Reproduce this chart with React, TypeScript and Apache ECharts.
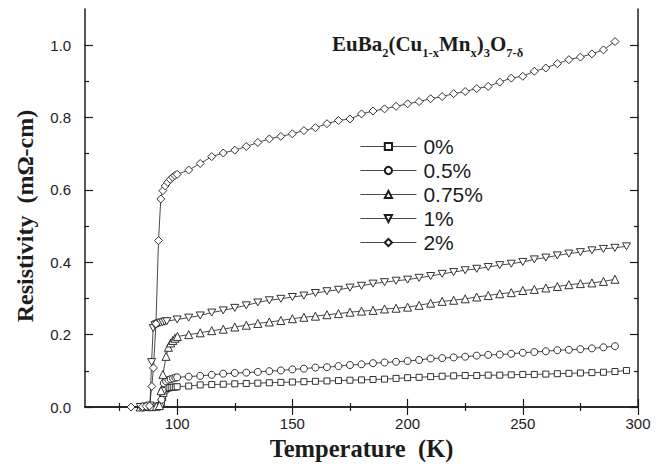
import React, { useEffect, useRef } from "react";
import * as echarts from "echarts";

// ---- data: [temperature (K), resistivity (mΩ-cm)] ----
const SERIES_0: number[][] = [
  [86, 0], [88, 0], [90, 0.001], [91.5, 0.002], [92.5, 0.003], [93.2, 0.012], [93.7, 0.025],
  [94.2, 0.037], [94.8, 0.047], [95.6, 0.051], [96.5, 0.053], [97.4, 0.054], [98.3, 0.055],
  [99.2, 0.055], [100, 0.056], [105, 0.058], [110, 0.061], [115, 0.062], [120, 0.063],
  [125, 0.064], [130, 0.065], [135, 0.066], [140, 0.067], [145, 0.068], [150, 0.069],
  [155, 0.07], [160, 0.071], [165, 0.072], [170, 0.073], [175, 0.074], [180, 0.075],
  [185, 0.076], [190, 0.077], [195, 0.079], [200, 0.081], [205, 0.082], [210, 0.084],
  [215, 0.085], [220, 0.086], [225, 0.087], [230, 0.087], [235, 0.088], [240, 0.088],
  [245, 0.089], [250, 0.09], [255, 0.09], [260, 0.091], [265, 0.092], [270, 0.093],
  [275, 0.094], [280, 0.095], [285, 0.096], [290, 0.098], [295, 0.101],
];

const SERIES_05: number[][] = [
  [86, 0], [88, 0], [90, 0.001], [91.5, 0.002], [92.5, 0.004], [93.2, 0.02], [93.7, 0.045],
  [94.2, 0.066], [95.2, 0.071], [96.2, 0.075], [97.2, 0.077], [98.2, 0.079], [99.2, 0.081],
  [100, 0.082], [105, 0.084], [110, 0.086], [115, 0.089], [120, 0.092], [125, 0.094],
  [130, 0.095], [135, 0.097], [140, 0.099], [145, 0.101], [150, 0.104], [155, 0.106],
  [160, 0.109], [165, 0.11], [170, 0.113], [175, 0.116], [180, 0.118], [185, 0.121],
  [190, 0.123], [195, 0.125], [200, 0.127], [205, 0.13], [210, 0.134], [215, 0.135],
  [220, 0.137], [225, 0.139], [230, 0.142], [235, 0.144], [240, 0.145], [245, 0.147],
  [250, 0.15], [255, 0.152], [260, 0.154], [265, 0.157], [270, 0.158], [275, 0.16],
  [280, 0.162], [285, 0.165], [290, 0.168],
];

const SERIES_075: number[][] = [
  [84, 0], [87, 0.001], [89, 0.001], [91, 0.002], [92.3, 0.004], [93, 0.045], [93.8, 0.09],
  [95.2, 0.14], [96.2, 0.165], [97.2, 0.177], [98.1, 0.184], [99.1, 0.19], [100.1, 0.195],
  [105, 0.2], [110, 0.205], [115, 0.211], [120, 0.215], [125, 0.221], [130, 0.226],
  [135, 0.231], [140, 0.235], [145, 0.239], [150, 0.244], [155, 0.248], [160, 0.251],
  [165, 0.255], [170, 0.258], [175, 0.262], [180, 0.265], [185, 0.267], [190, 0.271],
  [195, 0.273], [200, 0.276], [205, 0.281], [210, 0.287], [215, 0.292], [220, 0.295],
  [225, 0.299], [230, 0.304], [235, 0.308], [240, 0.313], [245, 0.316], [250, 0.322],
  [255, 0.325], [260, 0.329], [265, 0.333], [270, 0.338], [275, 0.341], [280, 0.343],
  [285, 0.347], [290, 0.353],
];

const SERIES_1: number[][] = [
  [84, 0], [86, 0.001], [87.5, 0.002], [88.2, 0.004], [88.9, 0.124], [89.6, 0.218],
  [90.4, 0.226], [91.2, 0.229], [92, 0.231], [92.8, 0.233], [93.7, 0.234], [94.6, 0.236],
  [95.5, 0.237], [100, 0.242], [105, 0.247], [110, 0.253], [115, 0.261], [120, 0.267],
  [125, 0.274], [130, 0.281], [135, 0.289], [140, 0.295], [145, 0.299], [150, 0.304],
  [155, 0.308], [160, 0.315], [165, 0.32], [170, 0.324], [175, 0.33], [180, 0.335],
  [185, 0.341], [190, 0.345], [195, 0.349], [200, 0.352], [205, 0.357], [210, 0.362],
  [215, 0.368], [220, 0.373], [225, 0.378], [230, 0.382], [235, 0.387], [240, 0.392],
  [245, 0.396], [250, 0.401], [255, 0.408], [260, 0.413], [265, 0.419], [270, 0.424],
  [275, 0.428], [280, 0.433], [285, 0.437], [290, 0.44], [295, 0.444],
];

const SERIES_2: number[][] = [
  [80, 0], [85, 0.001], [86.5, 0.002], [88, 0.003], [89, 0.057], [89.7, 0.108], [90.8, 0.23],
  [91.9, 0.46], [92.9, 0.575], [93.8, 0.598], [94.8, 0.611], [95.9, 0.621], [97, 0.629],
  [98, 0.635], [99, 0.64], [100, 0.643], [105, 0.655], [110, 0.673], [115, 0.692],
  [120, 0.702], [125, 0.71], [130, 0.72], [135, 0.731], [140, 0.741], [145, 0.748],
  [150, 0.755], [155, 0.764], [160, 0.772], [165, 0.783], [170, 0.792], [175, 0.796],
  [180, 0.81], [185, 0.818], [190, 0.824], [195, 0.831], [200, 0.838], [205, 0.844],
  [210, 0.852], [215, 0.858], [220, 0.866], [225, 0.872], [230, 0.88], [235, 0.886],
  [240, 0.898], [245, 0.909], [250, 0.914], [255, 0.928], [260, 0.937], [265, 0.949],
  [270, 0.96], [275, 0.967], [280, 0.976], [285, 0.987], [290, 1.01],
];

const LEGEND_NAMES = ["0%", "0.5%", "0.75%", "1%", "2%"];
const X_MAJOR = [100, 150, 200, 250, 300];
const X_MINOR = [75, 125, 175, 225, 275];
const Y_MAJOR = [0, 0.2, 0.4, 0.6, 0.8, 1.0];
const Y_MINOR = [0.1, 0.3, 0.5, 0.7, 0.9];
const X_RANGE = [60, 300];
const Y_RANGE = [0, 1.1];

const INK = "#1c1c1c";
const DOWN_TRIANGLE = "path://M0,0L10,0L5,9Z";

export default function App() {
  const ref = useRef<HTMLDivElement>(null);

  useEffect(() => {
    if (!ref.current) return;
    const chart = echarts.init(ref.current, null, { renderer: "svg" });

    const axisLine = { show: true, lineStyle: { color: INK, width: 1.5 } };
    const tickStyle = { color: INK, width: 1.2 };

    const xBase = (position: string, ticks: number[], len: number, labels: boolean, showLine: boolean) => ({
      type: "value",
      min: X_RANGE[0],
      max: X_RANGE[1],
      position,
      axisLine: showLine ? axisLine : { show: false },
      axisTick: { show: true, inside: true, length: len, customValues: ticks, lineStyle: tickStyle },
      axisLabel: labels
        ? {
            show: true,
            customValues: X_MAJOR,
            margin: 9,
            fontSize: 15,
            fontFamily: "Liberation Sans, Arial, sans-serif",
            color: INK,
          }
        : { show: false },
      splitLine: { show: false },
    });

    const yBase = (position: string, ticks: number[], len: number, labels: boolean, showLine: boolean) => ({
      type: "value",
      min: Y_RANGE[0],
      max: Y_RANGE[1],
      position,
      axisLine: showLine ? axisLine : { show: false },
      axisTick: { show: true, inside: true, length: len, customValues: ticks, lineStyle: tickStyle },
      axisLabel: labels
        ? {
            show: true,
            customValues: Y_MAJOR,
            margin: 14,
            fontSize: 15,
            fontFamily: "Liberation Sans, Arial, sans-serif",
            color: INK,
            formatter: (v: number) => v.toFixed(1),
          }
        : { show: false },
      splitLine: { show: false },
    });

    const mk = (name: string, data: number[][], symbol: string, size: number | number[]) => ({
      name,
      type: "line",
      data,
      symbol,
      symbolSize: size,
      showSymbol: true,
      showAllSymbol: true,
      lineStyle: { color: INK, width: 0.8 },
      itemStyle: { color: "#fff", borderColor: INK, borderWidth: 0.9 },
      emphasis: { disabled: true },
      xAxisIndex: 0,
      yAxisIndex: 0,
    });

    chart.setOption({
      animation: false,
      backgroundColor: "#fff",
      grid: { left: 85, right: 31, top: 9, bottom: 63, containLabel: false },
      xAxis: [
        {
          ...xBase("bottom", X_MAJOR, 8, true, true),
          name: "Temperature  (K)",
          nameLocation: "middle",
          nameGap: 25,
          nameTextStyle: {
            fontFamily: "Liberation Serif, Times New Roman, serif",
            fontWeight: "bold",
            fontSize: 24.5,
            color: INK,
          },
        },
        xBase("top", X_MAJOR, 8, false, true),
        xBase("bottom", X_MINOR, 4, false, false),
        xBase("top", X_MINOR, 4, false, false),
      ],
      yAxis: [
        {
          ...yBase("left", Y_MAJOR, 8, true, true),
          name: "Resistivity  (mΩ-cm)",
          nameLocation: "middle",
          nameGap: 48,
          nameTextStyle: {
            fontFamily: "Liberation Serif, Times New Roman, serif",
            fontWeight: "bold",
            fontSize: 24,
            color: INK,
            padding: [0, 16, 0, 0],
          },
        },
        yBase("right", Y_MAJOR, 8, false, true),
        yBase("left", Y_MINOR, 4, false, false),
        yBase("right", Y_MINOR, 4, false, false),
      ],
      legend: {
        orient: "vertical",
        left: 360,
        top: 136,
        padding: 0,
        itemWidth: 56,
        itemHeight: 9,
        itemGap: 3,
        data: LEGEND_NAMES,
        lineStyle: { width: 0.8, color: INK },
        textStyle: {
          fontSize: 21,
          lineHeight: 21,
          fontFamily: "Liberation Sans, Arial, sans-serif",
          color: INK,
          padding: [0, 0, 0, 2],
        },
      },
      graphic: [
        {
          type: "text",
          left: 332,
          top: 33,
          style: {
            text: "{n|EuBa}{s|2}{n|(Cu}{s|1-x}{n|Mn}{s|x}{n|)}{s|3}{n|O}{s|7-δ}",
            rich: {
              n: {
                fontFamily: "Liberation Serif, Times New Roman, serif",
                fontWeight: "bold",
                fontSize: 21,
                lineHeight: 24,
                verticalAlign: "bottom",
                padding: [0, 0, 5, 0],
                fill: INK,
              },
              s: {
                fontFamily: "Liberation Serif, Times New Roman, serif",
                fontWeight: "bold",
                fontSize: 12.5,
                lineHeight: 14,
                verticalAlign: "bottom",
                fill: INK,
              },
            },
          },
        },
      ],
      series: [
        mk(LEGEND_NAMES[0], SERIES_0, "rect", 6),
        mk(LEGEND_NAMES[1], SERIES_05, "circle", 7),
        mk(LEGEND_NAMES[2], SERIES_075, "triangle", 8),
        mk(LEGEND_NAMES[3], SERIES_1, DOWN_TRIANGLE, [8, 7]),
        mk(LEGEND_NAMES[4], SERIES_2, "diamond", 8),
      ],
    });

    return () => chart.dispose();
  }, []);

  return (
    <div
      ref={ref}
      style={{ position: "fixed", left: 0, top: 0, width: 669, height: 470, background: "#fff" }}
    />
  );
}
